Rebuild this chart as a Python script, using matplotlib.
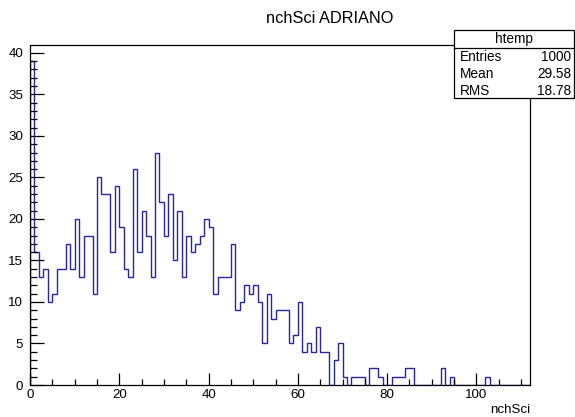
import numpy as np
import matplotlib
matplotlib.use("Agg")
import matplotlib.pyplot as plt
from matplotlib.patches import Rectangle
from matplotlib.ticker import MultipleLocator

plt.rcParams['font.family'] = ['Liberation Sans', 'DejaVu Sans']

# ---- data ----
title = "nchSci ADRIANO"
x_label = "nchSci"
hist_name = "htemp"
stat_labels = ["Entries", "Mean", "RMS"]
stat_values = ["1000", "29.58", "18.78"]

bin_low = 0
bin_width = 1
counts = [
    39, 16, 13, 14, 10, 11, 14, 14, 17, 14,   # 0-9
    20, 13, 18, 18, 11, 25, 23, 23, 16, 24,   # 10-19
    19, 14, 13, 26, 16, 21, 18, 13, 28, 22,   # 20-29
    18, 23, 15, 21, 13, 18, 16, 17, 18, 20,   # 30-39
    19, 11, 13, 13, 13, 17, 9, 10, 12, 11,    # 40-49
    12, 10, 5, 11, 8, 9, 9, 9, 5, 6,          # 50-59
    10, 4, 5, 4, 7, 4, 4, 0, 3, 5,            # 60-69
    1, 0, 1, 1, 1, 0, 2, 2, 1, 0,             # 70-79
    0, 1, 1, 1, 2, 2, 0, 0, 0, 0,             # 80-89
    0, 0, 2, 0, 1, 0, 0, 0, 0, 0,             # 90-99
    0, 0, 1, 0, 0, 0, 0, 0, 0, 0,             # 100-109
    0, 0,                                     # 110-111
]
x_max = 112
y_max = 40.95

W, H = 575, 417
fig = plt.figure(figsize=(W / 100, H / 100), dpi=100)

L, R, T, B = 30, 530, 45, 385
ax = fig.add_axes([L / W, (H - B) / H, (R - L) / W, (B - T) / H])

edges = bin_low + bin_width * np.arange(len(counts) + 1)
ax.stairs(counts, edges, color="#2525a8", lw=1.0)

ax.set_xlim(0, x_max)
ax.set_ylim(0, y_max)

ax.xaxis.set_major_locator(MultipleLocator(20))
ax.xaxis.set_minor_locator(MultipleLocator(5))
ax.yaxis.set_major_locator(MultipleLocator(5))
ax.yaxis.set_minor_locator(MultipleLocator(1))

ax.tick_params(axis='both', which='both', direction='in', top=False, right=False,
               labelsize=9.6, colors='black', width=0.9)
ax.tick_params(axis='y', which='major', length=10.3, pad=5)
ax.tick_params(axis='y', which='minor', length=5.2)
ax.tick_params(axis='x', which='major', length=8.5, pad=3)
ax.tick_params(axis='x', which='minor', length=4.3)
for s in ax.spines.values():
    s.set_linewidth(0.9)
    s.set_color('black')

# overlay in pixel coordinates for title, stats box, axis title
ov = fig.add_axes([0, 0, 1, 1], zorder=10)
ov.set_xlim(0, W)
ov.set_ylim(H, 0)
ov.axis('off')
ov.patch.set_alpha(0)

ov.text(330, 18, title, ha='center', va='center', fontsize=11.8)
ov.text(R, 410, x_label, ha='right', va='center', fontsize=9.6)

bx0, by0, bx1, by1 = 454, 30, 574, 98
ov.add_patch(Rectangle((bx0, by0), bx1 - bx0, by1 - by0, facecolor='white',
                       edgecolor='black', lw=0.9))
ov.plot([bx0, bx1], [47.5, 47.5], color='black', lw=0.9)
ov.text((bx0 + bx1) / 2, 39, hist_name, ha='center', va='center', fontsize=9.8)
for i, (lab, val) in enumerate(zip(stat_labels, stat_values)):
    yy = 57 + i * 16.8
    ov.text(bx0 + 6, yy, lab, ha='left', va='center', fontsize=9.8)
    ov.text(bx1 - 3, yy, val, ha='right', va='center', fontsize=9.8)

fig.savefig("out.png", dpi=100)
